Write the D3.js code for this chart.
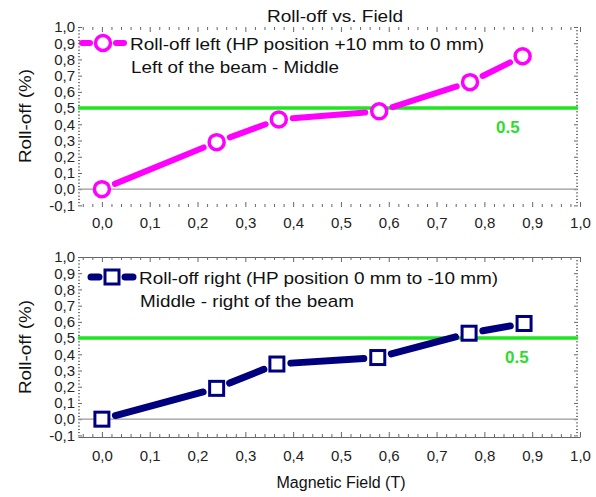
<!DOCTYPE html>
<meta charset="utf-8">
<html>
<head>
<title>Roll-off vs. Field</title>
<script src="https://cdn.jsdelivr.net/npm/d3@7"></script>
<style>
  body { margin: 0; background: #fff; }
  text { font-family: "Liberation Sans", Arial, sans-serif; }
</style>
</head>
<body>
<div id="chart"></div>
<script>
/* data */
var fieldLeft   = [0.0, 0.24, 0.37, 0.58, 0.77, 0.88];
var rollLeft    = [0.0, 0.29, 0.43, 0.48, 0.66, 0.82];
var fieldRight  = [0.0, 0.24, 0.366, 0.577, 0.768, 0.883];
var rollRight   = [0.0, 0.19, 0.34, 0.38, 0.53, 0.59];
var threshold   = 0.5;
var xTicks = [0, 0.1, 0.2, 0.3, 0.4, 0.5, 0.6, 0.7, 0.8, 0.9, 1.0];
var yTicks = [-0.1, 0, 0.1, 0.2, 0.3, 0.4, 0.5, 0.6, 0.7, 0.8, 0.9, 1.0];

var W = 596, H = 497;
var svg = d3.select("#chart").append("svg").attr("width", W).attr("height", H);

var x = d3.scaleLinear().domain([-0.05, 1.0]).range([78, 580]);
var comma = function(d){ return d3.format(".1f")(d).replace(".", ",").replace("−", "-"); };
var xMinor = d3.range(-0.04, 1.0001, 0.02).filter(function(v){ return Math.abs(Math.round(v*10) - v*10) > 1e-6; });
var yMinor = d3.range(-0.1, 1.0001, 0.02).filter(function(v){ return Math.abs(Math.round(v*10) - v*10) > 1e-6; });

function panel(cfg) {
  var y = d3.scaleLinear().domain([-0.11, 1.0]).range([cfg.bottom, cfg.top]);
  var g = svg.append("g");
  var x0 = x.range()[0], x1 = x.range()[1] - 2;

  /* ticks */
  function styleAxis(a) {
    a.selectAll(".tick line").attr("stroke", "#666");
    a.selectAll(".tick text").attr("fill", "#222").style("font-size", "15px")
      .style("font-family", "'Liberation Sans', Arial, sans-serif");
    a.select(".domain").attr("stroke", "#666").attr("stroke-width", 1).style("display", cfg.frame ? null : "none");
  }
  g.append("g").attr("transform", "translate(0," + cfg.bottom + ")")
    .call(d3.axisBottom(x).tickValues(xTicks).tickFormat(comma).tickSizeInner(-5).tickSizeOuter(0).tickPadding(cfg.xPad))
    .call(styleAxis);
  g.append("g").attr("transform", "translate(0," + cfg.bottom + ")")
    .call(d3.axisBottom(x).tickValues(xMinor).tickFormat("").tickSizeInner(-3).tickSizeOuter(0))
    .call(styleAxis).select(".domain").remove();
  g.append("g").attr("transform", "translate(0," + cfg.top + ")")
    .call(d3.axisTop(x).tickValues(xTicks).tickFormat("").tickSizeInner(-5).tickSizeOuter(0))
    .call(styleAxis);
  g.append("g").attr("transform", "translate(0," + cfg.top + ")")
    .call(d3.axisTop(x).tickValues(xMinor).tickFormat("").tickSizeInner(-3).tickSizeOuter(0))
    .call(styleAxis).select(".domain").remove();
  g.append("g").attr("transform", "translate(" + x0 + ",0)")
    .call(d3.axisLeft(y).tickValues(yTicks).tickFormat(comma).tickSizeInner(-4).tickSizeOuter(0).tickPadding(3))
    .call(styleAxis).select(".domain").remove();
  g.append("g").attr("transform", "translate(" + x0 + ",0)")
    .call(d3.axisLeft(y).tickValues(yMinor).tickFormat("").tickSizeInner(-2).tickSizeOuter(0))
    .call(styleAxis).select(".domain").remove();
  g.append("g").attr("transform", "translate(" + x1 + ",0)")
    .call(d3.axisRight(y).tickValues(yTicks).tickFormat("").tickSizeInner(-4).tickSizeOuter(0))
    .call(styleAxis).select(".domain").remove();
  g.append("g").attr("transform", "translate(" + x1 + ",0)")
    .call(d3.axisRight(y).tickValues(yMinor).tickFormat("").tickSizeInner(-2).tickSizeOuter(0))
    .call(styleAxis).select(".domain").remove();

  /* zero line and threshold */
  g.append("line").attr("x1", x0).attr("x2", x1).attr("y1", y(0)).attr("y2", y(0))
    .attr("stroke", "#999").attr("stroke-width", 1.2);
  g.append("line").attr("x1", x0).attr("x2", x1).attr("y1", y(threshold)).attr("y2", y(threshold))
    .attr("stroke", "#1ee61e").attr("stroke-width", 3.5);
  g.append("text").attr("x", cfg.thrX).attr("y", y(threshold) + 25)
    .attr("fill", "#2fdc2f").style("font-size", "17px").style("font-weight", "bold")
    .text(threshold.toFixed(1));

  /* connecting segments with gaps around markers */
  var pts = cfg.xs.map(function(v, i){ return [x(v), y(cfg.ys[i])]; });
  var segs = d3.pairs(pts);
  var gap = 14;
  g.selectAll(".seg").data(segs).enter().append("line")
    .attr("x1", function(d){ var dx=d[1][0]-d[0][0], dy=d[1][1]-d[0][1], L=Math.hypot(dx,dy); return d[0][0]+dx/L*gap; })
    .attr("y1", function(d){ var dx=d[1][0]-d[0][0], dy=d[1][1]-d[0][1], L=Math.hypot(dx,dy); return d[0][1]+dy/L*gap; })
    .attr("x2", function(d){ var dx=d[1][0]-d[0][0], dy=d[1][1]-d[0][1], L=Math.hypot(dx,dy); return d[1][0]-dx/L*gap; })
    .attr("y2", function(d){ var dx=d[1][0]-d[0][0], dy=d[1][1]-d[0][1], L=Math.hypot(dx,dy); return d[1][1]-dy/L*gap; })
    .attr("stroke", cfg.color).attr("stroke-width", cfg.lw).attr("stroke-linecap", "round");

  function marker(sel) {
    if (cfg.shape === "circle") {
      sel.append("circle").attr("r", 7.5).attr("fill", "#fff").attr("stroke", cfg.color).attr("stroke-width", 3.5);
    } else {
      sel.append("rect").attr("x", -7).attr("y", -7).attr("width", 14).attr("height", 14)
        .attr("fill", "#fff").attr("stroke", cfg.color).attr("stroke-width", 3);
    }
  }
  g.selectAll(".pt").data(pts).enter().append("g")
    .attr("transform", function(d){ return "translate(" + d[0] + "," + d[1] + ")"; })
    .call(marker);

  /* legend */
  var lg = svg.append("g").attr("transform", "translate(" + cfg.legX + "," + cfg.legY + ")");
  lg.append("line").attr("x1", -21).attr("x2", -13).attr("stroke", cfg.color).attr("stroke-width", cfg.lw).attr("stroke-linecap", "round");
  lg.append("line").attr("x1", 13).attr("x2", 21).attr("stroke", cfg.color).attr("stroke-width", cfg.lw).attr("stroke-linecap", "round");
  lg.call(marker);
  lg.append("text").attr("x", 27).attr("y", 7).style("font-size", "17px").attr("fill", "#111")
    .attr("textLength", cfg.len1).attr("lengthAdjust", "spacingAndGlyphs").text(cfg.label1);
  lg.append("text").attr("x", 28).attr("y", 30).style("font-size", "17px").attr("fill", "#111")
    .attr("textLength", cfg.len2).attr("lengthAdjust", "spacingAndGlyphs").text(cfg.label2);

  /* y title */
  svg.append("text").attr("transform", "translate(31," + cfg.yTitle + ") rotate(-90)")
    .attr("text-anchor", "middle").style("font-size", "17px").attr("fill", "#111")
    .attr("textLength", 94).attr("lengthAdjust", "spacingAndGlyphs").text("Roll-off (%)");
}

panel({ top: 27, bottom: 207, xs: fieldLeft, ys: rollLeft, color: "#ff00ff", lw: 6, shape: "circle",
        frame: false, xPad: 10, thrX: 496, legX: 103, legY: 43, yTitle: 116,
        label1: "Roll-off left (HP position +10 mm to 0 mm)", len1: 354,
        label2: "Left of the beam - Middle", len2: 208 });
panel({ top: 257, bottom: 437, xs: fieldRight, ys: rollRight, color: "#00007f", lw: 7, shape: "square",
        frame: true, xPad: 13, thrX: 505, legX: 112, legY: 277, yTitle: 347,
        label1: "Roll-off right (HP position 0 mm to -10 mm)", len1: 359,
        label2: "Middle - right of the beam", len2: 214 });

/* titles */
svg.append("text").attr("x", 267).attr("y", 22).style("font-size", "17px").attr("fill", "#111")
  .attr("textLength", 136).attr("lengthAdjust", "spacingAndGlyphs").text("Roll-off vs. Field");
svg.append("text").attr("x", 341).attr("y", 488).attr("text-anchor", "middle").style("font-size", "16px").attr("fill", "#111")
  .attr("textLength", 129).attr("lengthAdjust", "spacingAndGlyphs").text("Magnetic Field (T)");
</script>
</body>
</html>
